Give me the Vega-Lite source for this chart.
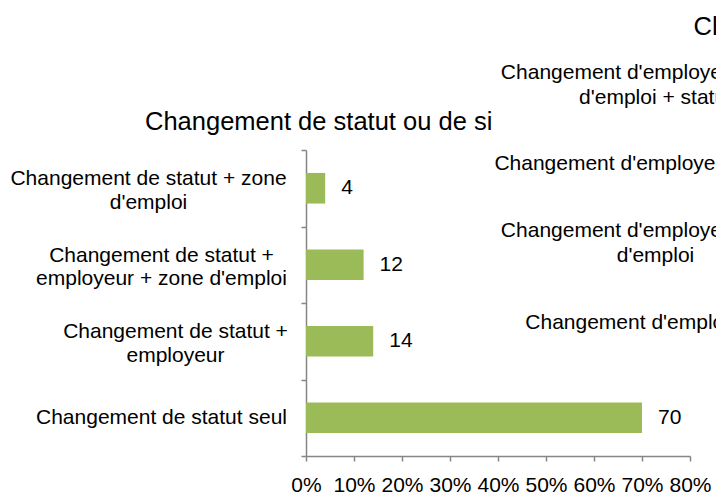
{
  "$schema": "https://vega.github.io/schema/vega-lite/v6.json",
  "width": 384,
  "height": 306,
  "autosize": "none",
  "padding": {"left": 306, "top": 150, "right": 26, "bottom": 36},
  "background": "white",
  "config": {"view": {"stroke": null}, "font": "Liberation Sans"},
  "datasets": {
    "statut": [
      {"categorie": "Changement de statut + zone d'emploi", "pourcentage": 4},
      {"categorie": "Changement de statut + employeur + zone d'emploi", "pourcentage": 12},
      {"categorie": "Changement de statut + employeur", "pourcentage": 14},
      {"categorie": "Changement de statut seul", "pourcentage": 70}
    ],
    "employeur": [
      {"categorie": "Changement d'employeur + zone d'emploi + statut"},
      {"categorie": "Changement d'employeur + statut"},
      {"categorie": "Changement d'employeur + zone d'emploi"},
      {"categorie": "Changement d'employeur seul"}
    ]
  },
  "title": {
    "text": "Changement de statut ou de si",
    "anchor": "start",
    "frame": "group",
    "dx": -161,
    "offset": -141,
    "baseline": "alphabetic",
    "font": "Liberation Sans",
    "fontSize": 25.5,
    "fontWeight": "normal",
    "color": "#000000"
  },
  "layer": [
    {
      "data": {"name": "statut"},
      "encoding": {
        "y": {
          "field": "categorie",
          "type": "nominal",
          "scale": {
            "domain": [
              "Changement de statut + zone d'emploi",
              "Changement de statut + employeur + zone d'emploi",
              "Changement de statut + employeur",
              "Changement de statut seul"
            ],
            "paddingInner": 0,
            "paddingOuter": 0
          },
          "axis": {
            "title": null,
            "labelFont": "Liberation Sans",
            "labelFontSize": 21,
            "labelColor": "#000000",
            "labelLimit": 0,
            "labelOverlap": false,
            "labelAlign": "center",
            "labelBaseline": "middle",
            "labelLineHeight": 23.5,
            "labelOffset": {
              "condition": {"test": "datum.value !== 'Changement de statut seul'", "value": -9.5},
              "value": 0
            },
            "labelPadding": {
              "condition": [
                {"test": "datum.value === \"Changement de statut + zone d'emploi\"", "value": 153},
                {"test": "datum.value === \"Changement de statut + employeur\"", "value": 126}
              ],
              "value": 140
            },
            "labelExpr": "datum.value === \"Changement de statut + zone d'emploi\" ? [\"Changement de statut + zone\", \"d'emploi\"] : datum.value === \"Changement de statut + employeur + zone d'emploi\" ? [\"Changement de statut +\", \"employeur + zone d'emploi\"] : datum.value === \"Changement de statut + employeur\" ? [\"Changement de statut +\", \"employeur\"] : datum.label",
            "domainColor": "#868686",
            "domainWidth": 1.5,
            "tickColor": "#868686",
            "tickWidth": 1.5,
            "tickSize": 5,
            "tickBand": "extent"
          }
        },
        "x": {
          "field": "pourcentage",
          "type": "quantitative",
          "scale": {"domain": [0, 80], "nice": false},
          "axis": {
            "title": null,
            "values": [0, 10, 20, 30, 40, 50, 60, 70, 80],
            "labelExpr": "datum.value + '%'",
            "grid": false,
            "labelFont": "Liberation Sans",
            "labelFontSize": 21,
            "labelColor": "#000000",
            "labelFlush": false,
            "labelOverlap": false,
            "labelPadding": 13,
            "domainColor": "#868686",
            "domainWidth": 1.5,
            "tickColor": "#868686",
            "tickWidth": 1.5,
            "tickSize": 5
          }
        }
      },
      "layer": [
        {
          "mark": {"type": "bar", "color": "#9BBB59", "height": {"band": 0.4}}
        },
        {
          "mark": {
            "type": "text",
            "align": "left",
            "baseline": "middle",
            "dx": 16,
            "font": "Liberation Sans",
            "fontSize": 21,
            "color": "#000000"
          },
          "encoding": {"text": {"field": "pourcentage", "type": "quantitative"}}
        }
      ]
    },
    {
      "data": {"name": "employeur"},
      "mark": {"type": "text"},
      "encoding": {
        "text": {"value": ""},
        "y": {
          "field": "categorie",
          "type": "nominal",
          "scale": {
            "domain": [
              "Ch",
              "Changement d'employeur + zone d'emploi + statut",
              "Changement d'employeur + statut",
              "Changement d'employeur + zone d'emploi",
              "Changement d'employeur seul"
            ],
            "range": [-184.3, 211.7],
            "paddingInner": 0,
            "paddingOuter": 0
          },
          "axis": {
            "orient": "left",
            "offset": -505,
            "title": null,
            "domain": false,
            "ticks": false,
            "tickSize": 0,
            "labelFont": "Liberation Sans",
            "labelColor": "#000000",
            "labelLimit": 0,
            "labelOverlap": false,
            "labelBaseline": "middle",
            "labelLineHeight": 24.5,
            "labelFontSize": {"condition": {"test": "datum.value === 'Ch'", "value": 25.5}, "value": 21},
            "labelAlign": {
              "condition": [
                {"test": "datum.value === 'Ch'", "value": "left"},
                {"test": "indexof(datum.value, 'zone') >= 0", "value": "center"}
              ],
              "value": "right"
            },
            "labelPadding": {
              "condition": [
                {"test": "datum.value === 'Ch'", "value": 118},
                {"test": "indexof(datum.value, 'zone') >= 0", "value": 156}
              ],
              "value": 2
            },
            "labelOffset": {
              "condition": [
                {"test": "datum.value === 'Ch'", "value": 21},
                {"test": "indexof(datum.value, 'zone') >= 0", "value": -12}
              ],
              "value": 0
            },
            "labelExpr": "datum.value === \"Changement d'employeur + zone d'emploi + statut\" ? [\"Changement d'employeur + zone\", \"d'emploi + statut\"] : datum.value === \"Changement d'employeur + zone d'emploi\" ? [\"Changement d'employeur + zone\", \"d'emploi\"] : datum.label"
          }
        }
      }
    }
  ],
  "resolve": {"scale": {"y": "independent"}, "axis": {"y": "independent"}}
}
